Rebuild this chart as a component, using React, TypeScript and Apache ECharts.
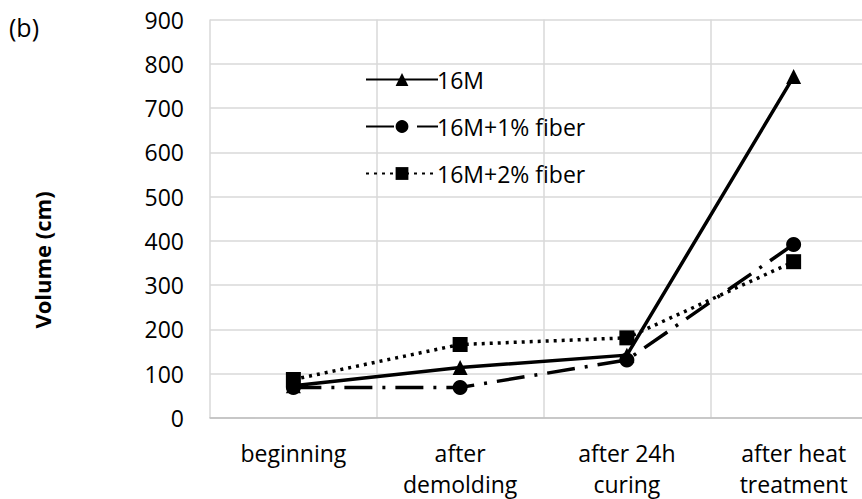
import React, { useEffect, useRef } from "react";
import * as echarts from "echarts";

const categories = ["beginning", "after\ndemolding", "after 24h\ncuring", "after heat\ntreatment"];
const series16M = [73, 114, 142, 771];
const series1Fiber = [69, 69, 131, 392];
const series2Fiber = [87, 166, 181, 353];
const yTicks = { min: 0, max: 900, interval: 100 };

const FONT = "'Open Sans', sans-serif";
const FS = 23;

export default function App() {
  const ref = useRef<HTMLDivElement>(null);
  useEffect(() => {
    if (!ref.current) return;
    const chart = echarts.init(ref.current, undefined, { renderer: "svg" });
    chart.setOption({
      animation: false,
      backgroundColor: "#ffffff",
      textStyle: { fontFamily: FONT },
      grid: {
        left: 210,
        top: 19.5,
        width: 667,
        height: 398.5,
        containLabel: false,
        outerBoundsMode: "none",
      },
      legend: {
        orient: "vertical",
        left: 360,
        top: 63,
        itemWidth: 72,
        itemHeight: 16,
        itemGap: 24,
        textStyle: { fontFamily: FONT, fontSize: FS, color: "#000", padding: [0, 0, 0, -6] },
        data: ["16M", "16M+1% fiber", "16M+2% fiber"],
      },
      graphic: [
        { type: "text", left: 9, top: 14, style: { text: "(b)", font: `25px ${FONT}`, fill: "#000" } },
        {
          type: "text",
          x: 42,
          y: 260,
          rotation: Math.PI / 2,
          style: {
            text: "Volume (cm)",
            font: `bold 22px ${FONT}`,
            fill: "#000",
            align: "center",
            verticalAlign: "middle",
          },
        },
      ],
      xAxis: {
        type: "category",
        data: categories,
        boundaryGap: true,
        axisLine: { lineStyle: { color: "#bfbfbf", width: 1.5 } },
        axisTick: { show: false },
        splitLine: { show: true, lineStyle: { color: "#d9d9d9", width: 1.5 } },
        axisLabel: { fontFamily: FONT, fontSize: FS, color: "#000", margin: 19, lineHeight: 31 },
      },
      yAxis: {
        type: "value",
        min: yTicks.min,
        max: yTicks.max,
        interval: yTicks.interval,
        axisLine: { show: false },
        axisTick: { show: false },
        splitLine: { lineStyle: { color: "#d9d9d9", width: 1.5 } },
        axisLabel: { fontFamily: FONT, fontSize: FS, color: "#000", margin: 26 },
      },
      series: [
        {
          name: "16M",
          type: "line",
          data: series16M,
          symbol: "triangle",
          symbolSize: 15,
          itemStyle: { color: "#000" },
          lineStyle: { color: "#000", width: 3.5, type: "solid" },
          z: 3,
        },
        {
          name: "16M+1% fiber",
          type: "line",
          data: series1Fiber,
          symbol: "circle",
          symbolSize: 15,
          itemStyle: { color: "#000" },
          lineStyle: { color: "#000", width: 3.5, type: [28, 10, 3, 10] },
          z: 2,
        },
        {
          name: "16M+2% fiber",
          type: "line",
          data: series2Fiber,
          symbol: "rect",
          symbolSize: 15,
          itemStyle: { color: "#000" },
          lineStyle: { color: "#000", width: 3.5, type: [3, 5] },
          z: 1,
        },
      ],
    });
    return () => chart.dispose();
  }, []);
  return (
    <div style={{ position: "absolute", left: 0, top: 0, width: 862, height: 499, overflow: "hidden" }}>
      <div ref={ref} style={{ width: 880, height: 499 }} />
    </div>
  );
}
